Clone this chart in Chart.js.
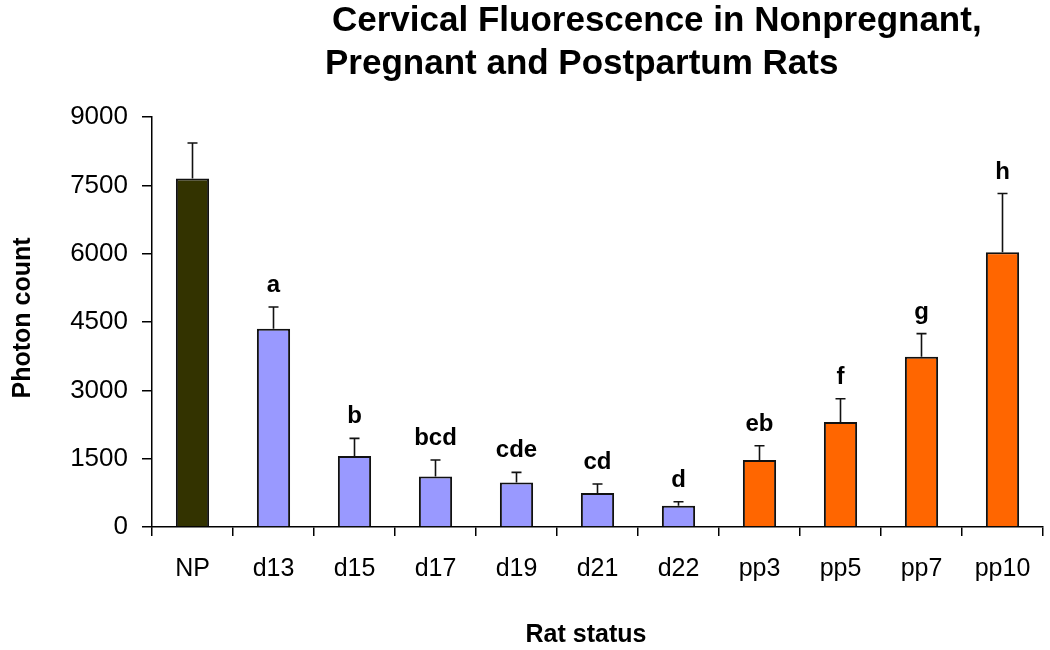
<!DOCTYPE html>
<html>
<head>
<meta charset="utf-8">
<script src="https://cdn.jsdelivr.net/npm/chart.js@4.4.1/dist/chart.umd.min.js"></script>
<style>
  html, body { margin: 0; padding: 0; background: #fff; }
  #chart { display: block; }
</style>
</head>
<body>
<canvas id="chart" width="1050" height="650"></canvas>
<script>
// --- data ---
const categories = ['NP', 'd13', 'd15', 'd17', 'd19', 'd21', 'd22', 'pp3', 'pp5', 'pp7', 'pp10'];
const groups     = ['np', 'preg', 'preg', 'preg', 'preg', 'preg', 'preg', 'post', 'post', 'post', 'post'];
const means      = [7650, 4350, 1560, 1110, 975, 745, 465, 1470, 2305, 3735, 6030];
const errors     = [780, 480, 385, 360, 225, 200, 90, 315, 510, 510, 1290];
const letters    = ['', 'a', 'b', 'bcd', 'cde', 'cd', 'd', 'eb', 'f', 'g', 'h'];
const yTicks     = [0, 1500, 3000, 4500, 6000, 7500, 9000];

const groupColor = { np: '#333300', preg: '#9999FF', post: '#FF6600' };
const FONT = 'Arial, "Liberation Sans", sans-serif';

/* error bars + significance letters, drawn on top of the bars */
const errorBars = {
  id: 'errorBars',
  afterDatasetsDraw(chart) {
    const { ctx, scales: { y } } = chart;
    const meta = chart.getDatasetMeta(0);
    ctx.save();
    ctx.strokeStyle = '#111';
    ctx.lineWidth = 1.6;
    meta.data.forEach((bar, i) => {
      const yMean = y.getPixelForValue(means[i]);
      const yErr = y.getPixelForValue(means[i] + errors[i]);
      ctx.beginPath();
      ctx.moveTo(bar.x, yMean);
      ctx.lineTo(bar.x, yErr);
      ctx.moveTo(bar.x - 5, yErr);
      ctx.lineTo(bar.x + 5, yErr);
      ctx.stroke();

      if (letters[i]) {
        ctx.fillStyle = '#000';
        ctx.font = 'bold 24px ' + FONT;
        ctx.textAlign = 'center';
        ctx.textBaseline = 'alphabetic';
        ctx.fillText(letters[i], bar.x, yErr - 15);
      }
    });
    ctx.restore();
  }
};

/* chart title and axis titles (title lines are offset like the original) */
const titles = {
  id: 'titles',
  afterDraw(chart) {
    const { ctx, chartArea } = chart;
    ctx.save();
    ctx.fillStyle = '#000';
    ctx.textBaseline = 'alphabetic';
    ctx.font = 'bold 35px ' + FONT;
    ctx.textAlign = 'left';
    ctx.fillText('Cervical Fluorescence in Nonpregnant,', 332, 31);
    ctx.fillText('Pregnant and Postpartum Rats', 325, 74);

    ctx.font = 'bold 25px ' + FONT;
    ctx.textAlign = 'center';
    ctx.fillText('Rat status', 586, 642);

    ctx.translate(23, (chartArea.top + chartArea.bottom) / 2 - 4);
    ctx.rotate(-Math.PI / 2);
    ctx.textBaseline = 'middle';
    ctx.fillText('Photon count', 0, 0);
    ctx.restore();
  }
};

new Chart(document.getElementById('chart'), {
  type: 'bar',
  data: {
    labels: categories,
    datasets: [{
      data: means,
      backgroundColor: groups.map(g => groupColor[g]),
      borderColor: '#111',
      borderWidth: 2,
      barPercentage: 0.41,
      categoryPercentage: 1
    }]
  },
  options: {
    responsive: false,
    animation: false,
    devicePixelRatio: 1,
    layout: { padding: { top: 117, right: 7, bottom: 0, left: 0 } },
    plugins: { legend: { display: false }, title: { display: false }, tooltip: { enabled: false } },
    scales: {
      x: {
        grid: { offset: true, drawOnChartArea: false, tickLength: 9, color: '#000', lineWidth: 1.5 },
        border: { color: '#000', width: 1.5 },
        ticks: { color: '#000', font: { family: FONT, size: 25 }, padding: 18, maxRotation: 0 },
        afterFit(scale) { scale.height = 650 - 527; }
      },
      y: {
        min: 0,
        max: 9000,
        afterBuildTicks(scale) { scale.ticks = yTicks.map(v => ({ value: v })); },
        grid: { drawOnChartArea: false, tickLength: 10, color: '#000', lineWidth: 1.5 },
        border: { color: '#000', width: 1.5 },
        ticks: {
          color: '#000',
          font: { family: FONT, size: 26 },
          padding: 14,
          callback: v => String(v)
        },
        afterFit(scale) { scale.width = 152; }
      }
    }
  },
  plugins: [errorBars, titles]
});
</script>
</body>
</html>
